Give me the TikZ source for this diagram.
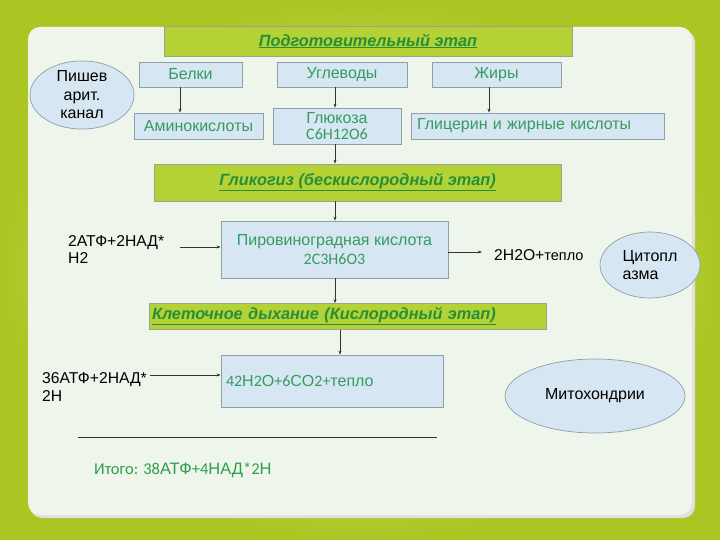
\documentclass[tikz,border=0pt]{standalone}
\usepackage{fontspec}
\setmainfont{Liberation Sans}
\newfontfamily\calib{Carlito}
\usetikzlibrary{arrows.meta,shapes.geometric,calc}
\definecolor{outerc}{HTML}{ABC523}
\definecolor{outerin}{HTML}{E2EBA0}
\definecolor{panel}{HTML}{EEF5EB}
\definecolor{hdrfill}{HTML}{B4D235}
\definecolor{hdrborder}{HTML}{97A58E}
\definecolor{hdrtext}{HTML}{268F3A}
\definecolor{bfill}{HTML}{D6E7F3}
\definecolor{bborder}{HTML}{8F9EAA}
\definecolor{btext}{HTML}{369B5E}
\definecolor{itog}{HTML}{2E9E4A}
\definecolor{arrc}{HTML}{333333}
\begin{document}
\begin{tikzpicture}[x=1pt,y=-1pt,
  hdr/.style={draw=hdrborder, line width=0.8pt, fill=hdrfill, inner sep=0pt,
    font=\fontsize{16.3}{18}\selectfont\bfseries\itshape, text=hdrtext},
  bbox/.style={draw=bborder, line width=0.8pt, fill=bfill, inner sep=0pt, align=center,
    font=\fontsize{16}{18}\selectfont, text=btext},
  ell/.style={ellipse, draw=bborder, line width=0.7pt, fill=bfill, inner sep=0pt, align=center,
    font=\fontsize{16}{18.5}\selectfont, text=black},
  lbl/.style={inner sep=0pt, align=left, font=\fontsize{15.7}{17.5}\selectfont, text=black},
  arr/.style={draw=arrc, line width=0.6pt, -{Stealth[length=4pt,width=3pt]}}]
\useasboundingbox (0,0) rectangle (720,540);
% background
\shade[inner color=outerin, outer color=outerc] (0,0) rectangle (720,540);
\fill[black!12, rounded corners=12pt] (30,30) rectangle (695,518);
\fill[panel, rounded corners=12pt] (28,27) rectangle (692,515);

% header boxes
\node[hdr, minimum width=408pt, minimum height=30pt] (title) at (368,41) {\underline{Подготовительный этап}};
\node[hdr, minimum width=407pt, minimum height=37pt] (glyk) at (357.5,182.5) {\underline{Гликогиз (бескислородный этап)}};
\node[hdr, minimum width=397pt, minimum height=26pt, text width=391pt, align=left] (kl) at (347.5,316.5) {\underline{Клеточное дыхание (Кислородный этап)}};

% ellipses
\node[ell, minimum width=104pt, minimum height=68pt] (pish) at (82,95) {Пишев\\арит.\\канал};
\node[ell, minimum width=100pt, minimum height=66pt, align=left] (cyto) at (650,265) {Цитопл\\азма};
\node[ell, minimum width=180pt, minimum height=74pt] (mito) at (595,396) {Митохондрии};

% blue boxes
\node[bbox, minimum width=103pt, minimum height=25pt] (belki) at (190.5,74.5) {Белки};
\node[bbox, minimum width=130pt, minimum height=25pt] (uglev) at (342,74.5) {Углеводы};
\node[bbox, minimum width=129pt, minimum height=25pt] (zhiry) at (496.5,74.5) {Жиры};
\node[bbox, minimum width=129pt, minimum height=26pt] (amino) at (198.5,126) {Аминокислоты};
\node[bbox, minimum width=128pt, minimum height=36pt, font=\fontsize{16}{16.5}\selectfont] (gluk) at (337,126) {Глюкоза\\{\calib C6H12O6}};
\node[bbox, minimum width=253pt, minimum height=26pt, text width=241pt, align=left] (glic) at (537.5,126) {Глицерин и жирные кислоты};
\node[bbox, minimum width=227pt, minimum height=57pt, font=\fontsize{16}{19}\selectfont] (pyr) at (334.5,249.5) {Пировиноградная кислота\\{\calib 2C3H6O3}};
\node[bbox, minimum width=222pt, minimum height=52pt, text width=212pt, align=left] (res) at (332,381) {{\calib 42}H{\calib 2}O{\calib +6}CO{\calib 2+}тепло};

% labels
\node[lbl, anchor=west] (atf1) at (68,249.5) {2АТФ+2НАД*\\H2};
\node[lbl, anchor=west] (water) at (494,255) {2H2O+{\fontsize{14.5}{16}\selectfont тепло}};
\node[lbl, anchor=west] (atf2) at (42,387) {36АТФ+2НАД*\\2Н};
\node[inner sep=0pt, anchor=west, text=itog, font=\fontsize{16.5}{18}\selectfont] (itogo) at (94,470) {{\calib Итого: 38}АТФ{\calib +4}НАД{\calib *2}Н};

% rule
\draw[line width=0.8pt, black!80] (78,437) -- (437,437);

% connector helpers
\coordinate (x180) at (180,0);
\coordinate (x335) at (335,0);
\coordinate (x489) at (489,0);
\coordinate (x340) at (340,0);
\coordinate (a1) at (180,247);
\coordinate (a2) at (150,375);
\coordinate (w1) at (482,252);

% connectors
\draw[arr] (belki.south -| x180) -- (amino.north -| x180);
\draw[arr] (uglev.south -| x335) -- (gluk.north -| x335);
\draw[arr] (zhiry.south -| x489) -- (glic.north -| x489);
\draw[arr] (gluk.south -| x335) -- (glyk.north -| x335);
\draw[arr] (glyk.south -| x335) -- (pyr.north -| x335);
\draw[arr] (a1) -- (a1 -| pyr.west);
\draw[arr] (w1 -| pyr.east) -- (w1);
\draw[arr] (pyr.south -| x335) -- (kl.north -| x335);
\draw[arr] (kl.south -| x340) -- (res.north -| x340);
\draw[arr] (a2) -- (a2 -| res.west);
\end{tikzpicture}
\end{document}
